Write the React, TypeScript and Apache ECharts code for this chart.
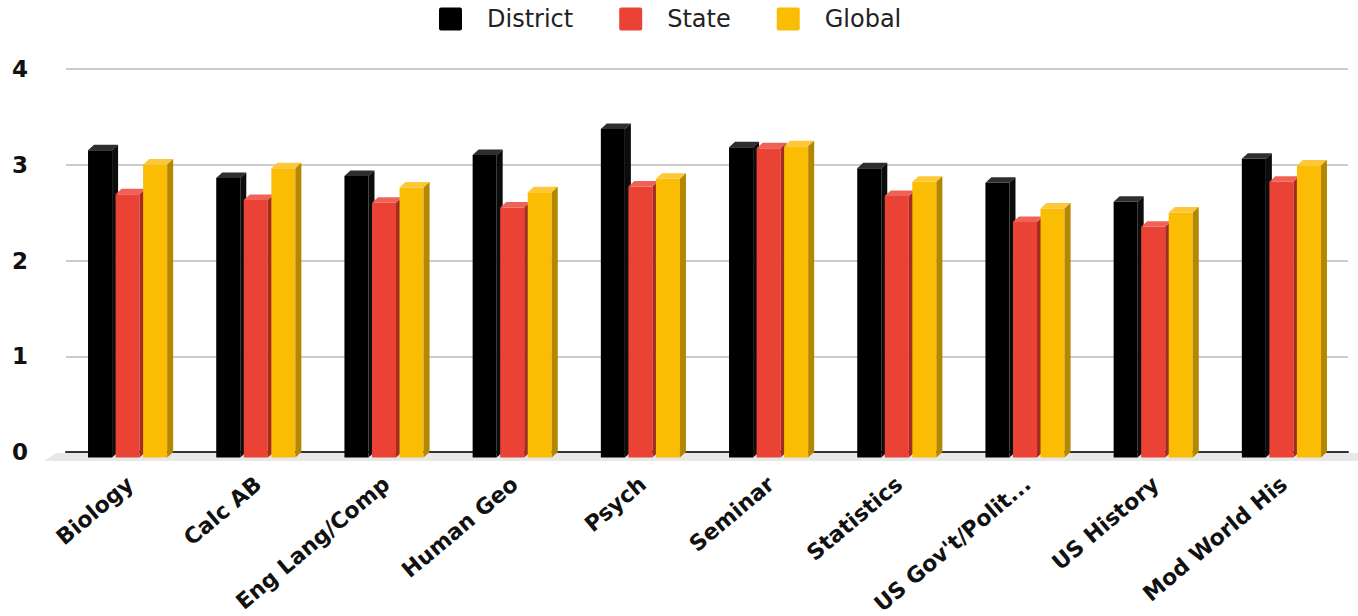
import React, { useEffect, useRef } from "react";
import * as echarts from "echarts";

const categories = [
  "Biology",
  "Calc AB",
  "Eng Lang/Comp",
  "Human Geo",
  "Psych",
  "Seminar",
  "Statistics",
  "US Gov't/Polit...",
  "US History",
  "Mod World His",
];
const seriesNames = ["District", "State", "Global"];
const districtValues = [3.21, 2.92, 2.94, 3.16, 3.43, 3.24, 3.02, 2.87, 2.67, 3.12];
const stateValues = [2.75, 2.69, 2.66, 2.61, 2.83, 3.23, 2.73, 2.46, 2.41, 2.88];
const globalValues = [3.06, 3.02, 2.82, 2.77, 2.91, 3.25, 2.88, 2.6, 2.56, 3.05];
const yTicks = [0, 1, 2, 3, 4];

const FRONT = ["#000000", "#EA4335", "#FBBC04"];
const TOP = ["#2e2e2e", "#EF6257", "#FCC838"];
const SIDE = ["#0c0c0c", "#A52B21", "#B38700"];
const OFFSETS = [-42, -14.5, 13];

export default function App() {
  const ref = useRef<HTMLDivElement>(null);
  useEffect(() => {
    document.body.style.margin = "0";
    const chart = echarts.init(ref.current!, undefined, { renderer: "svg" });
    const all = [districtValues, stateValues, globalValues];
    const series = all.map((vals, s) => ({
      type: "custom",
      name: seriesNames[s],
      itemStyle: { color: FRONT[s] },
      encode: { x: 0, y: 1 },
      data: vals.map((v, i) => [i, v]),
      renderItem: (params: any, api: any) => {
        const ci = api.value(0);
        const v = api.value(1);
        const top = api.coord([ci, v]);
        const base = api.coord([ci, 0]);
        const bw = api.size([1, 0])[0];
        const k = bw / 128;
        const w = 24 * k;
        const dx = 6 * k;
        const dy = 5.5;
        const fx = top[0] + OFFSETS[s] * k;
        const ft = top[1] + dy;
        const fb = base[1] + dy;
        return {
          type: "group",
          children: [
            {
              type: "rect",
              shape: { x: fx, y: ft, width: w, height: fb - ft },
              style: { fill: FRONT[s] },
            },
            {
              type: "polygon",
              shape: {
                points: [
                  [fx, ft],
                  [fx + w, ft],
                  [fx + w + dx, ft - dy],
                  [fx + dx, ft - dy],
                ],
              },
              style: { fill: TOP[s] },
            },
            {
              type: "polygon",
              shape: {
                points: [
                  [fx + w, ft],
                  [fx + w + dx, ft - dy],
                  [fx + w + dx, fb - dy],
                  [fx + w, fb],
                ],
              },
              style: { fill: SIDE[s] },
            },
          ],
        };
      },
    }));

    chart.setOption({
      animation: false,
      backgroundColor: "#ffffff",
      legend: {
        data: seriesNames,
        left: 434,
        top: 2,
        icon: "path://M2,0 L21,0 Q23,0 23,2 L23,21 Q23,23 21,23 L2,23 Q0,23 0,21 L0,2 Q0,0 2,0 Z",
        itemWidth: 23,
        itemHeight: 23,
        itemGap: 46,
        textStyle: {
          fontFamily: "DejaVu Sans",
          fontSize: 24,
          color: "#222222",
          padding: [0, 0, 0, 20],
        },
      },
      grid: {
        left: 66,
        right: 10,
        top: 69,
        bottom: 164,
        containLabel: false,
        outerBoundsMode: "none",
      },
      xAxis: {
        type: "category",
        data: categories,
        axisTick: { show: false },
        axisLine: { show: true, lineStyle: { color: "#333333", width: 2 } },
        axisLabel: {
          interval: 0,
          rotate: 40,
          margin: 29,
          fontFamily: "DejaVu Sans",
          fontWeight: "bold",
          fontSize: 22,
          color: "#111111",
        },
      },
      yAxis: {
        type: "value",
        min: yTicks[0],
        max: yTicks[yTicks.length - 1],
        interval: 1,
        axisLine: { show: false },
        axisTick: { show: false },
        splitLine: { lineStyle: { color: "#cccccc", width: 2 } },
        axisLabel: {
          margin: 38,
          fontFamily: "DejaVu Sans",
          fontWeight: "bold",
          fontSize: 23,
          color: "#111111",
        },
      },
      graphic: [
        {
          type: "polygon",
          z: 0,
          shape: {
            points: [
              [44, 461],
              [56, 453],
              [1358, 453],
              [1358, 461],
            ],
          },
          style: { fill: "#e8e8e8" },
        },
      ],
      series,
    });
    return () => chart.dispose();
  }, []);
  return (
    <div
      ref={ref}
      style={{ width: 1358, height: 616, position: "absolute", left: 0, top: 0 }}
    />
  );
}
